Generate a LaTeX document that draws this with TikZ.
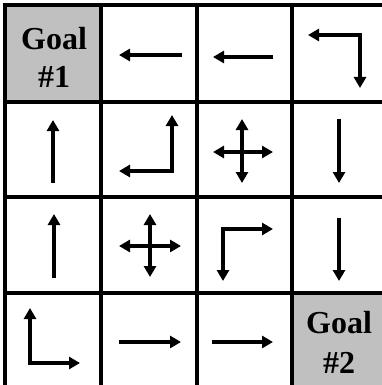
\documentclass[tikz,border=0pt]{standalone}
\usepackage{fontspec}
\setmainfont{Liberation Serif}
\usetikzlibrary{arrows.meta}
\definecolor{goalgray}{HTML}{C0C0C0}
\tikzset{
  gridline/.style={line width=3.6pt, black},
  arr/.style={line width=3.8pt, line join=miter, -{Triangle[length=11pt,width=12pt]}},
  arrboth/.style={line width=3.8pt, line join=miter, {Triangle[length=11pt,width=12pt]}-{Triangle[length=11pt,width=12pt]}},
  goaltext/.style={font=\fontsize{32}{38}\selectfont\bfseries, anchor=base, inner sep=0pt}
}
\begin{document}
\begin{tikzpicture}[x=1pt,y=-1pt]
\useasboundingbox (0,0) rectangle (382,385);
\clip (0,0) rectangle (382,385);
% goal cells
\fill[goalgray] (5,5) rectangle (101,102);
\fill[goalgray] (292,293) rectangle (388,389);
% grid
\foreach \x in {5,101,197,292,388} \draw[gridline] (\x,3) -- (\x,391);
\foreach \y in {5,102,197,293,389} \draw[gridline] (3,\y) -- (390,\y);
% goal labels
\node[goaltext] (g1a) at (54,50) {Goal};
\node[goaltext] (g1b) at (54,88) {\#1};
\node[goaltext] (g2a) at (339,333) {Goal};
\node[goaltext] (g2b) at (339,373) {\#2};
% row 1
\draw[arr] (182,55) -- (119,55);
\draw[arr] (273,57) -- (213,57);
\draw[arrboth] (308,35) -- (360,35) -- (360,88);
% row 2
\draw[arr] (53,183) -- (53,120);
\draw[arrboth] (119,171) -- (172,171) -- (172,115);
\draw[arrboth] (213,152) -- (273,152);
\draw[arrboth] (242,119) -- (242,183);
\draw[arr] (339,119) -- (339,183);
% row 3
\draw[arr] (54,278) -- (54,214);
\draw[arrboth] (119,246) -- (181,246);
\draw[arrboth] (150,214) -- (150,277);
\draw[arrboth] (223,281) -- (223,229) -- (273,229);
\draw[arr] (339,218) -- (339,281);
% row 4
\draw[arrboth] (30,308) -- (30,363) -- (80,363);
\draw[arr] (119,342) -- (181,342);
\draw[arr] (212,342) -- (273,342);
\end{tikzpicture}
\end{document}
